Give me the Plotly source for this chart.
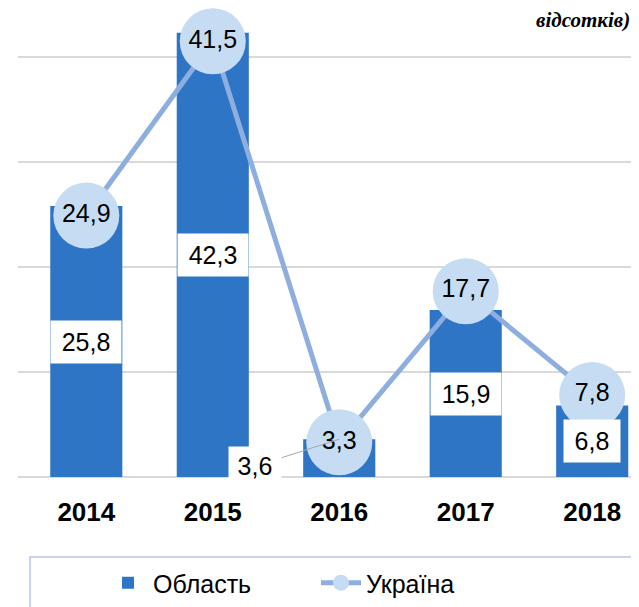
import plotly.graph_objects as go

years = ["2014", "2015", "2016", "2017", "2018"]
oblast = [25.8, 42.3, 3.6, 15.9, 6.8]
ukraine = [24.9, 41.5, 3.3, 17.7, 7.8]
series_names = ["Область", "Україна"]
unit_text = "відсотків)"

def fmt(v):
    return f"{v:.1f}".replace(".", ",")

FONT = "Liberation Sans, Arial, sans-serif"

# figure drawn in a page whose body has an 8px margin
W, H = 631, 599
L, T, PH, PW = 10, 0, 469, 621

fig = go.Figure()
fig.add_trace(go.Bar(
    x=years, y=oblast, name=series_names[0],
    marker=dict(color="#2e75c6", line=dict(width=0)),
    width=0.57, hoverinfo="skip",
))
fig.add_trace(go.Scatter(
    x=years, y=ukraine, name=series_names[1],
    mode="lines+markers+text",
    line=dict(color="#8eaedf", width=5),
    marker=dict(color="#c5dcf2", size=66, line=dict(width=0)),
    text=[fmt(v) for v in ukraine], textposition="middle center",
    textfont=dict(family=FONT, size=25, color="black"),
    hoverinfo="skip",
))

annotations = []
for i, v in enumerate(oblast):
    label = fmt(v)
    if years[i] == "2016":
        annotations.append(dict(
            x=i, y=v, xref="x", yref="y", text=label,
            showarrow=True, arrowhead=0, arrowwidth=1, arrowcolor="#a6a6a6",
            ax=-84, ay=27, bgcolor="white", borderpad=5, width=14 * len(label),
            font=dict(family=FONT, size=25, color="black"),
        ))
    else:
        annotations.append(dict(
            x=i, y=v / 2, xref="x", yref="y", text=label,
            showarrow=False, bgcolor="white", borderpad=7, width=14 * len(label),
            font=dict(family=FONT, size=25, color="black"),
        ))

annotations.append(dict(
    x=(624 - L) / PW, y=1.0, xref="paper", yref="paper",
    xanchor="right", yanchor="top", yshift=2,
    text="<b><i>" + unit_text + "</i></b>", showarrow=False,
    font=dict(family="Liberation Serif, Times New Roman, serif", size=21, color="black"),
))

fig.update_layout(
    width=W, height=H,
    margin=dict(l=L, r=W - L - PW, t=T, b=H - T - PH, autoexpand=False),
    paper_bgcolor="white", plot_bgcolor="white",
    barmode="overlay",
    showlegend=True,
    legend=dict(
        orientation="h", xref="container", yref="container",
        x=95 / W, xanchor="left", y=1 - 575 / H, yanchor="middle",
        font=dict(family=FONT, size=25, color="black"),
        itemwidth=40, entrywidth=158, traceorder="normal",
        bgcolor="rgba(0,0,0,0)",
    ),
    annotations=annotations,
    shapes=[dict(
        type="rect", xref="paper", yref="paper",
        x0=(22 - L) / PW, x1=1.05, y0=-0.35, y1=(PH - 549) / PH,
        line=dict(color="#b4c7e7", width=1.5), fillcolor="rgba(0,0,0,0)",
        layer="below",
    )],
)
fig.update_xaxes(
    type="category", range=[-0.54, 4.37], automargin=False,
    showgrid=False, showline=False, ticks="",
    tickfont=dict(family=FONT, size=26, color="black", weight="bold"),
    ticklabelstandoff=17,
)
fig.update_yaxes(
    range=[0, PH / 10.5], dtick=10, showticklabels=False, automargin=False,
    showgrid=True, gridcolor="#d9d9d9", gridwidth=1.5,
    zeroline=True, zerolinecolor="#d9d9d9", zerolinewidth=2,
)

fig.write_html("out.html")
